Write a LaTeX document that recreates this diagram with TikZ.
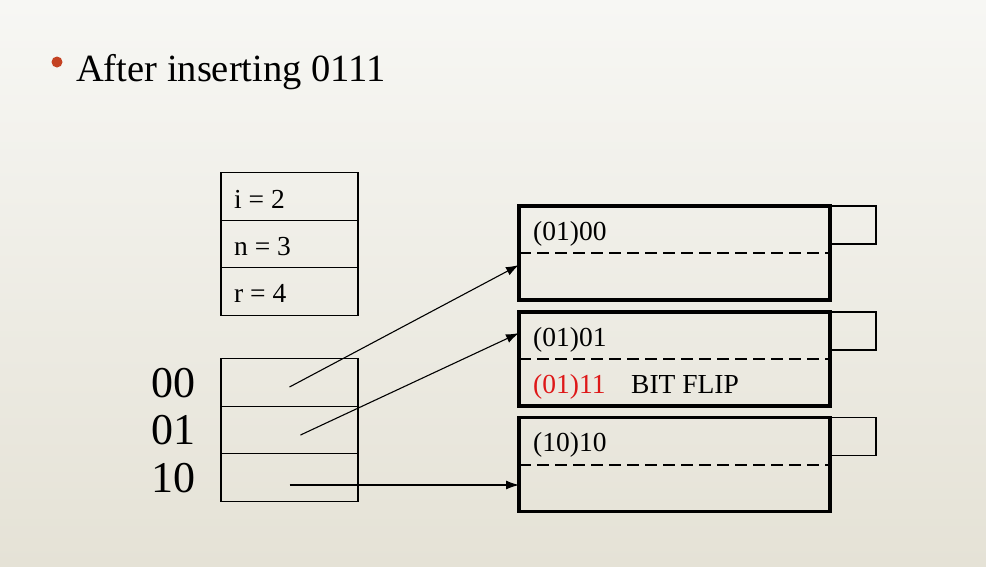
\documentclass[tikz,border=0pt]{standalone}
\usepackage{fontspec}
\setmainfont{Liberation Serif}
\usetikzlibrary{positioning,arrows.meta}
\definecolor{bgtop}{RGB}{247,247,244}
\definecolor{bgbot}{RGB}{229,226,214}
\definecolor{bulletred}{RGB}{196,66,34}
\definecolor{flipred}{RGB}{222,24,24}

\begin{document}
\begin{tikzpicture}[x=1pt,y=-1pt,
	cell/.style={draw,line width=1.3pt,outer sep=0pt,inner sep=0pt,minimum width=137pt,minimum height=47.5pt},
	bucket/.style={draw,line width=3.6pt,outer sep=0pt,inner sep=0pt,minimum width=311pt,minimum height=94pt},
	tag/.style={draw,line width=1.1pt,outer sep=0pt,inner sep=0pt,minimum width=46pt,minimum height=38pt,anchor=north west},
	txt/.style={font=\fontsize{27.5}{30}\selectfont,inner sep=0pt,anchor=base west},
	big/.style={font=\fontsize{44}{48}\selectfont,inner sep=0pt,anchor=base east},
	split/.style={line width=2pt,dash pattern=on 12pt off 6pt},
	ptr/.style={-{Latex[length=13pt,width=9pt]},line width=1.1pt}]
		% background
		\shade[top color=bgtop,bottom color=bgbot] (0,0) rectangle (986,566);
		\useasboundingbox (0,0) rectangle (986,566);
		% heading
		\fill[bulletred] (57,62) circle (5.5);
		\node[font=\fontsize{38.5}{42}\selectfont,inner sep=0pt,anchor=base west] (title) at (76,81) {After inserting 0111};
		% parameters
		\node[cell] (pi) at (289.5,196.5) {};
		\node[cell,below=0pt of pi] (pn) {};
		\node[cell,below=0pt of pn] (pr) {};
		\node[txt] (li) at (234,208) {i = 2};
		\node[txt] (ln) at (234,255) {n = 3};
		\node[txt] (lr) at (234,302) {r = 4};
		% directory
		\node[cell] (d00) at (289.5,382.5) {};
		\node[cell,below=0pt of d00] (d01) {};
		\node[cell,below=0pt of d01] (d10) {};
		\node[big] (k00) at (196,397) {00};
		\node[big] (k01) at (196,444) {01};
		\node[big] (k10) at (196,492) {10};
		% buckets
		\node[bucket] (b1) at (674.5,253) {};
		\node[bucket] (b2) at (674.5,359) {};
		\node[bucket] (b3) at (674.5,464.5) {};
		\foreach \b in {b1,b2,b3}{
			\node[tag] (t\b) at (\b.north east) {};
			\draw[split] (\b.west) -- (\b.east);
		}
		\node[txt] (r1) at (533,240) {(01)00};
		\node[txt] (r2) at (533,346) {(01)01};
		\node[txt,text=flipred] (r3) at (533,393) {(01)11};
		\node[txt] (flip) at (631,393) {BIT FLIP};
		\node[txt] (r4) at (533,451) {(10)10};
		% pointers
		\coordinate (s00) at ([yshift=-4.5pt]d00.center);
		\coordinate (s01) at ([xshift=11pt,yshift=-5pt]d01.center);
		\coordinate (s10) at ([yshift=-7.5pt]d10.center);
		\coordinate (e1) at ([yshift=-12pt]b1.west);
		\coordinate (e2) at ([yshift=26pt]b2.west);
		\coordinate (e3) at ([yshift=-20.5pt]b3.west);
		\draw[ptr] (s00) -- (e1);
		\draw[ptr] (s01) -- (e2);
		\draw[ptr] (s10) -- (e3);
	\end{tikzpicture}
\end{document}
